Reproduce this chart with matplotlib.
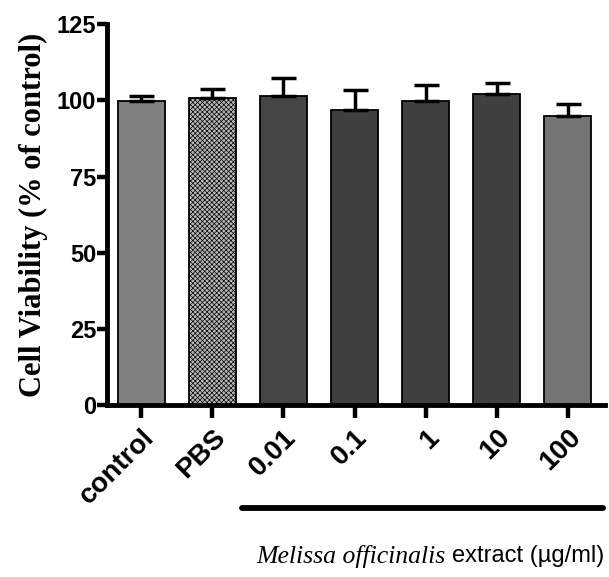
import matplotlib.pyplot as plt
import numpy as np

labels = ['control', 'PBS', '0.01', '0.1', '1', '10', '100']
means = [99.8, 100.8, 101.4, 97.0, 99.8, 102.1, 94.9]
sem = [1.8, 2.9, 6.0, 6.5, 5.3, 3.5, 3.9]
colors = ['#808080', '#b8b8b8', '#454545', '#404040', '#404040', '#404040', '#747474']

plt.rcParams['hatch.color'] = '#7a7a7a'
plt.rcParams['hatch.linewidth'] = 0.5

fig = plt.figure(figsize=(6.09, 5.77), dpi=100)
ax = fig.add_axes([0.176, 0.298, 0.817, 0.660])

x = np.arange(len(labels))
bars = ax.bar(x, means, width=0.66, color=colors, edgecolor='black', linewidth=1.3, zorder=2)
bars[1].set_hatch('xxxxxxx')

ax.errorbar(x, means, yerr=[np.zeros(len(sem)), sem], fmt='none', ecolor='black',
            elinewidth=2.5, capsize=9, capthick=2.5, zorder=3)

ax.set_xlim(-0.48, 6.52)
ax.set_ylim(0, 125)
ax.set_yticks([0, 25, 50, 75, 100, 125])
ax.set_xticks(x)
ax.set_xticklabels(labels, rotation=45, ha='right', va='top', rotation_mode='anchor',
                   fontsize=20, fontweight='bold', family='Liberation Sans')
for t in ax.get_yticklabels():
    t.set_fontsize(17)
    t.set_fontweight('bold')
    t.set_family('Liberation Sans')

for s in ['top', 'right']:
    ax.spines[s].set_visible(False)
for s in ['left', 'bottom']:
    ax.spines[s].set_linewidth(3.5)
ax.tick_params(axis='both', width=3.2, length=7, pad=1)
ax.tick_params(axis='x', length=9, pad=5)

ax.set_ylabel('Cell Viability (% of control)', fontsize=22, fontweight='bold',
              family='Liberation Serif', labelpad=6)

# bar under extract concentrations
fig.add_artist(plt.Line2D([242 / 609, 603 / 609], [1 - 508 / 577, 1 - 508 / 577],
                          color='black', linewidth=4.2, solid_capstyle='round'))

fig.text(0.993, 1 - 556 / 577, 'extract (µg/ml)', ha='right', va='center',
         fontsize=17, family='Liberation Sans')
fig.text(0.993 - 0.262, 1 - 556 / 577, 'Melissa officinalis', ha='right', va='center',
         fontsize=18.5, style='italic', family='Liberation Serif')

fig.savefig('out.png', dpi=100)
